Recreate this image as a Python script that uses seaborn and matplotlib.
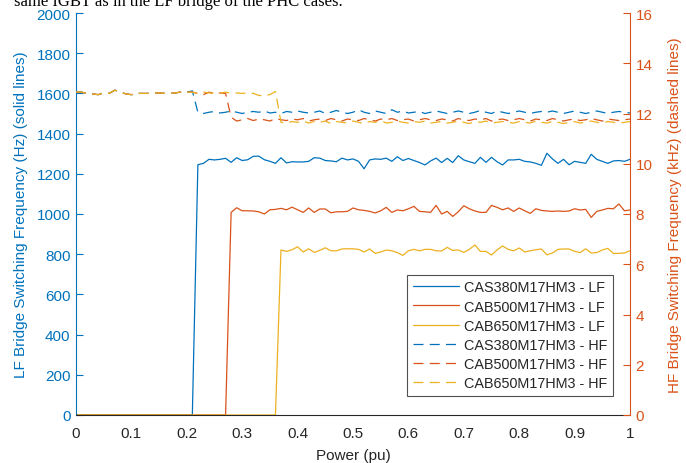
import numpy as np
import pandas as pd
import matplotlib
matplotlib.use("Agg")
import matplotlib.pyplot as plt
import seaborn as sns

# ---------------- data ----------------
power = np.round(np.arange(0, 101) * 0.01, 2)

lf_cas380 = [
    0, 0, 0, 0, 0, 0, 0, 0, 0, 0,
    0, 0, 0, 0, 0, 0, 0, 0, 0, 0,
    0, 0, 1245, 1252, 1272, 1269, 1272, 1277, 1257, 1280,
    1266, 1270, 1287, 1288, 1270, 1262, 1252, 1280, 1254, 1260,
    1259, 1259, 1262, 1280, 1278, 1266, 1264, 1260, 1278, 1269,
    1274, 1262, 1225, 1269, 1274, 1272, 1278, 1262, 1285, 1266,
    1276, 1266, 1256, 1244, 1264, 1278, 1256, 1277, 1256, 1290,
    1269, 1260, 1252, 1282, 1257, 1282, 1260, 1244, 1269, 1269,
    1272, 1262, 1259, 1252, 1242, 1302, 1274, 1252, 1272, 1245,
    1262, 1257, 1252, 1297, 1272, 1262, 1252, 1264, 1266, 1262,
    1272]

lf_cab500 = [
    0, 0, 0, 0, 0, 0, 0, 0, 0, 0,
    0, 0, 0, 0, 0, 0, 0, 0, 0, 0,
    0, 0, 0, 0, 0, 0, 0, 0, 1008, 1031,
    1016, 1016, 1015, 1011, 1000, 1021, 1023, 1028, 1021, 1034,
    1021, 1008, 1030, 1008, 1025, 1025, 1006, 1011, 1011, 1013,
    1030, 1021, 1018, 1013, 1005, 1016, 1033, 1008, 1020, 1016,
    1026, 1038, 1013, 1011, 1008, 1043, 1000, 1013, 988, 1011,
    1041, 1026, 1015, 1008, 1008, 1043, 1033, 1021, 1030, 1013,
    1030, 1016, 1003, 1026, 1018, 1015, 1013, 1015, 1013, 1015,
    1026, 1020, 1023, 983, 1013, 1020, 1028, 1026, 1050, 1016,
    1020]

lf_cab650 = [
    0, 0, 0, 0, 0, 0, 0, 0, 0, 0,
    0, 0, 0, 0, 0, 0, 0, 0, 0, 0,
    0, 0, 0, 0, 0, 0, 0, 0, 0, 0,
    0, 0, 0, 0, 0, 0, 0, 821, 814, 822,
    837, 811, 827, 809, 819, 832, 817, 817, 826, 827,
    827, 824, 811, 826, 804, 811, 821, 817, 808, 794,
    817, 824, 817, 824, 824, 817, 816, 834, 819, 821,
    809, 824, 846, 814, 814, 796, 821, 841, 824, 817,
    831, 811, 817, 822, 826, 797, 806, 824, 826, 826,
    814, 808, 827, 806, 808, 821, 829, 804, 804, 806,
    817]

hf_cas380 = [
    12.85, 12.85, 12.80, 12.78, 12.75, 12.82, 12.80, 12.93, 12.85, 12.78,
    12.75, 12.80, 12.80, 12.80, 12.82, 12.82, 12.80, 12.80, 12.82, 12.86,
    12.85, 12.90, 12.05, 12.00, 12.05, 12.08, 12.02, 12.05, 12.10, 12.05,
    12.00, 12.05, 12.08, 12.05, 12.10, 12.02, 12.05, 12.00, 12.08, 12.05,
    12.10, 12.05, 12.02, 12.05, 12.10, 12.00, 12.05, 12.12, 12.05, 12.00,
    12.05, 12.15, 12.05, 12.00, 12.10, 12.05, 12.00, 12.15, 12.05, 12.10,
    12.02, 12.05, 12.08, 12.00, 12.05, 12.10, 12.05, 12.00, 12.05, 12.10,
    12.05, 12.00, 12.05, 12.12, 12.05, 12.00, 12.10, 12.05, 12.00, 12.05,
    12.10, 12.05, 12.00, 12.05, 12.08, 12.05, 12.10, 12.05, 12.00, 12.05,
    12.10, 12.05, 12.00, 12.05, 12.10, 12.05, 12.00, 12.05, 12.08, 12.05,
    12.02]

hf_cab500 = [
    12.85, 12.85, 12.80, 12.78, 12.75, 12.82, 12.80, 12.93, 12.85, 12.78,
    12.75, 12.80, 12.80, 12.80, 12.82, 12.82, 12.80, 12.80, 12.82, 12.86,
    12.85, 12.85, 12.80, 12.75, 12.85, 12.80, 12.82, 12.80, 11.85, 11.70,
    11.75, 11.80, 11.72, 11.78, 11.75, 11.70, 11.80, 11.75, 11.72, 11.78,
    11.75, 11.80, 11.70, 11.75, 11.78, 11.72, 11.80, 11.75, 11.70, 11.78,
    11.75, 11.72, 11.80, 11.75, 11.70, 11.78, 11.75, 11.80, 11.72, 11.75,
    11.78, 11.70, 11.75, 11.80, 11.75, 11.72, 11.78, 11.75, 11.70, 11.80,
    11.75, 11.72, 11.78, 11.75, 11.80, 11.70, 11.75, 11.78, 11.72, 11.75,
    11.80, 11.75, 11.70, 11.78, 11.75, 11.72, 11.80, 11.75, 11.70, 11.75,
    11.78, 11.72, 11.75, 11.80, 11.75, 11.70, 11.78, 11.75, 11.72, 11.75,
    11.78]

hf_cab650 = [
    12.85, 12.85, 12.80, 12.78, 12.75, 12.82, 12.80, 12.93, 12.85, 12.78,
    12.75, 12.80, 12.80, 12.80, 12.82, 12.82, 12.80, 12.80, 12.82, 12.86,
    12.85, 12.85, 12.80, 12.85, 12.82, 12.80, 12.82, 12.85, 12.80, 12.82,
    12.80, 12.82, 12.80, 12.72, 12.70, 12.75, 12.88, 11.65, 11.62, 11.68,
    11.65, 11.70, 11.62, 11.68, 11.65, 11.70, 11.60, 11.68, 11.65, 11.62,
    11.70, 11.65, 11.60, 11.68, 11.65, 11.72, 11.62, 11.65, 11.70, 11.65,
    11.62, 11.68, 11.65, 11.70, 11.62, 11.65, 11.68, 11.62, 11.65, 11.70,
    11.65, 11.60, 11.68, 11.65, 11.70, 11.62, 11.65, 11.68, 11.65, 11.62,
    11.68, 11.65, 11.62, 11.70, 11.65, 11.62, 11.68, 11.65, 11.60, 11.65,
    11.68, 11.62, 11.65, 11.70, 11.65, 11.62, 11.68, 11.65, 11.62, 11.65,
    11.68]

lf_labels = ["CAS380M17HM3 - LF", "CAB500M17HM3 - LF", "CAB650M17HM3 - LF"]
hf_labels = ["CAS380M17HM3 - HF", "CAB500M17HM3 - HF", "CAB650M17HM3 - HF"]
x_ticks = [0, 0.1, 0.2, 0.3, 0.4, 0.5, 0.6, 0.7, 0.8, 0.9, 1]
x_ticklabels = ["0", "0.1", "0.2", "0.3", "0.4", "0.5", "0.6", "0.7", "0.8", "0.9", "1"]
left_ticks = [0, 200, 400, 600, 800, 1000, 1200, 1400, 1600, 1800, 2000]
right_ticks = [0, 2, 4, 6, 8, 10, 12, 14, 16]

# ---------------- style ----------------
sns.set_style("white")
plt.rcParams["font.family"] = ["Liberation Sans", "DejaVu Sans"]
plt.rcParams["font.size"] = 10

BLUE = "#0072BD"
ORANGE = "#D95319"
YELLOW = "#EDB120"
GRAY = "#262626"
colors = [BLUE, ORANGE, YELLOW]

fig = plt.figure(figsize=(6.86, 4.64), dpi=100)
ax = fig.add_axes([76 / 686, 1 - 416 / 464, (630 - 76) / 686, (416 - 14) / 464])
ax2 = ax.twinx()

lw = 0.9
dash = (8.0, 5.0)
for vals, lab, c in zip([lf_cas380, lf_cab500, lf_cab650], lf_labels, colors):
    df = pd.DataFrame({"power": power, "f": vals})
    sns.lineplot(data=df, x="power", y="f", ax=ax, color=c, lw=lw, label=lab, legend=False)

for vals, lab, c in zip([hf_cas380, hf_cab500, hf_cab650], hf_labels, colors):
    df = pd.DataFrame({"power": power, "f": vals})
    sns.lineplot(data=df, x="power", y="f", ax=ax2, color=c, lw=lw, label=lab,
                 legend=False, dashes=False)
for ln in ax2.get_lines():
    ln.set_dashes(dash)

ax.set_xlim(0, 1)
ax.set_ylim(0, 2000)
ax2.set_ylim(0, 16)
ax.set_xticks(x_ticks)
ax.set_xticklabels(x_ticklabels)
ax.set_yticks(left_ticks)
ax2.set_yticks(right_ticks)

for a in (ax, ax2):
    a.spines["top"].set_visible(False)
ax.spines["right"].set_visible(False)
ax2.spines["left"].set_visible(False)
ax2.spines["bottom"].set_visible(False)
ax.spines["left"].set_color(BLUE)
ax2.spines["right"].set_color(ORANGE)
ax.spines["bottom"].set_color(GRAY)
for sp in list(ax.spines.values()) + list(ax2.spines.values()):
    sp.set_linewidth(0.8)

ax.tick_params(axis="x", direction="in", length=5, width=0.8, colors=GRAY,
               labelsize=11, pad=8)
ax.tick_params(axis="y", direction="in", length=5, width=0.8, colors=BLUE,
               labelsize=11, pad=4)
ax2.tick_params(axis="y", direction="in", length=5, width=0.8, colors=ORANGE,
                labelsize=11, pad=4)

ax.set_xlabel("Power (pu)", fontsize=11, color=GRAY, labelpad=6)
ax.set_ylabel("LF Bridge Switching Frequency (Hz) (solid lines)", fontsize=11,
              color=BLUE, labelpad=6)
ax2.set_ylabel("HF Bridge Switching Frequency (kHz) (dashed lines)", fontsize=11,
               color=ORANGE, labelpad=11)

handles = ax.get_lines()[:3] + ax2.get_lines()[:3]
labels = lf_labels + hf_labels
leg = ax2.legend(handles, labels, loc="lower right", bbox_to_anchor=(0.969, 0.047),
                 borderaxespad=0, fontsize=10.4, handlelength=3.2, handletextpad=0.3,
                 labelspacing=0.36, frameon=True, fancybox=False, borderpad=0.4)
leg.get_frame().set_edgecolor("#262626")
leg.get_frame().set_linewidth(0.8)

fig.text(14 / 686, 1 - 6 / 464, "same IGBT as in the LF bridge of the PHC cases.",
         family=["Liberation Serif", "DejaVu Serif"], fontsize=12, va="baseline",
         ha="left", color="black")

fig.savefig("out.png", dpi=100)
